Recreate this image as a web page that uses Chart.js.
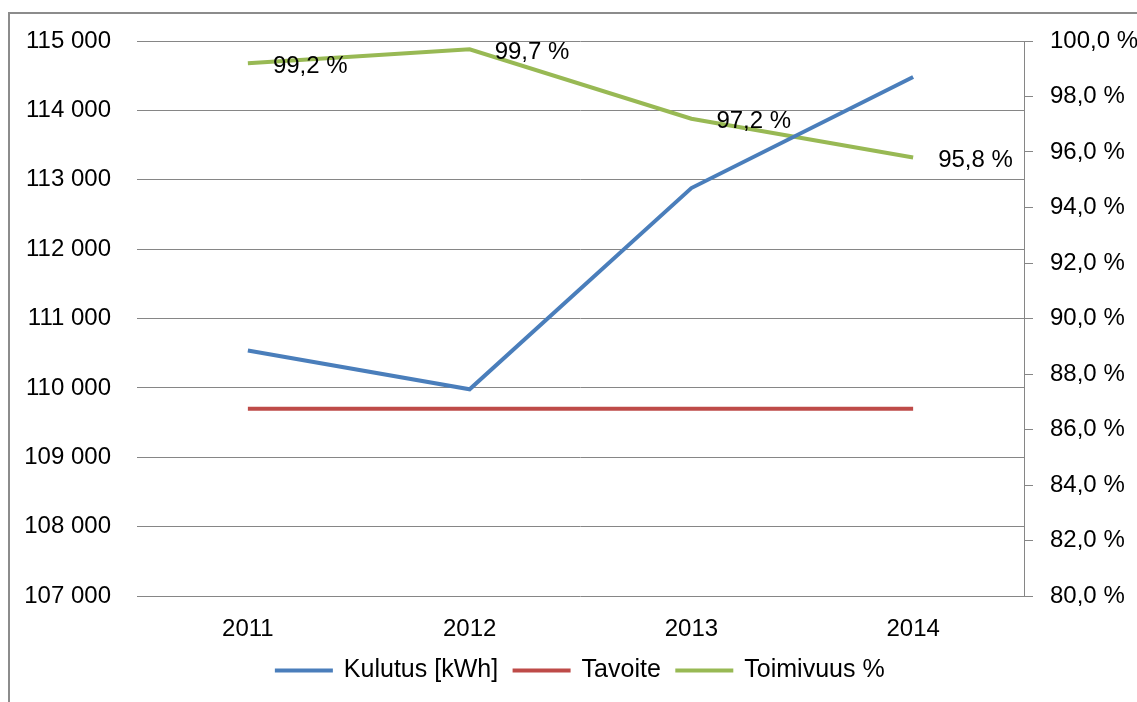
<!DOCTYPE html>
<html>
<head>
<meta charset="utf-8">
<script src="https://cdn.jsdelivr.net/npm/chart.js@4/dist/chart.umd.min.js"></script>
<style>
html,body{margin:0;padding:0;background:#fff;overflow:hidden;}
#frame{position:absolute;left:8px;top:12px;width:1300px;height:900px;border-left:2px solid #8c8c8c;border-top:2px solid #8c8c8c;box-sizing:border-box;}
#wrap{position:absolute;left:0;top:0;width:1137px;height:702px;}
</style>
</head>
<body>
<div id="frame"></div>
<div id="wrap"><canvas id="c" width="1137" height="702"></canvas></div>
<script>
const categories = ['2011', '2012', '2013', '2014'];
const kulutus = [110540, 109980, 112880, 114480];
const tavoite = [109700, 109700, 109700, 109700];
const toimivuus = [99.2, 99.7, 97.2, 95.8];
const seriesNames = ['Kulutus [kWh]', 'Tavoite', 'Toimivuus %'];

const FONT = 'Liberation Sans';
const FS = 24;
const LFS = 25;

const fmtThousands = v => String(Math.round(v)).replace(/\B(?=(\d{3})+(?!\d))/g, ' ');
const fmtPct = v => v.toFixed(1).replace('.', ',') + ' %';

const dataLabels = {
  id: 'dataLabels',
  afterDatasetsDraw(chart) {
    const ctx = chart.ctx;
    const meta = chart.getDatasetMeta(2);
    ctx.save();
    ctx.font = FS + 'px "' + FONT + '"';
    ctx.fillStyle = '#000';
    ctx.textAlign = 'left';
    ctx.textBaseline = 'middle';
    meta.data.forEach((pt, i) => {
      ctx.fillText(fmtPct(toimivuus[i]), pt.x + 25, pt.y + 3);
    });
    ctx.restore();
  }
};

new Chart(document.getElementById('c'), {
  type: 'line',
  data: {
    labels: categories,
    datasets: [
      {label: seriesNames[0], data: kulutus, borderColor: '#4a7ebb', backgroundColor: '#4a7ebb', borderWidth: 4, yAxisID: 'y', pointRadius: 0, tension: 0},
      {label: seriesNames[1], data: tavoite, borderColor: '#be4b48', backgroundColor: '#be4b48', borderWidth: 4, yAxisID: 'y', pointRadius: 0, tension: 0},
      {label: seriesNames[2], data: toimivuus, borderColor: '#98b954', backgroundColor: '#98b954', borderWidth: 4, yAxisID: 'y1', pointRadius: 0, tension: 0}
    ]
  },
  options: {
    responsive: false,
    animation: false,
    devicePixelRatio: 1,
    layout: {padding: {left: 0, right: 0, top: 41, bottom: 9}},
    font: {family: FONT, size: FS},
    plugins: {
      legend: {
        position: 'bottom',
        fullSize: false,
        labels: {
          color: '#000',
          font: {family: FONT, size: LFS},
          boxWidth: 55,
          boxHeight: 1,
          padding: 16,
          generateLabels(chart) {
            return Chart.defaults.plugins.legend.labels.generateLabels(chart).map(l => Object.assign(l, {lineWidth: 3}));
          }
        }
      },
      tooltip: {enabled: false}
    },
    scales: {
      x: {
        offset: true,
        grid: {display: false, drawTicks: false},
        border: {display: false},
        ticks: {color: '#000', font: {family: FONT, size: FS}, padding: 19, maxRotation: 0},
        afterFit(s) { s.height = 46; }
      },
      y: {
        position: 'left',
        min: 107000, max: 115000,
        ticks: {stepSize: 1000, color: '#000', font: {family: FONT, size: FS}, padding: 26, callback: v => fmtThousands(v)},
        grid: {color: '#868686', lineWidth: 1, drawTicks: false},
        border: {display: false},
        afterFit(s) { s.width = 137; }
      },
      y1: {
        position: 'right',
        min: 80, max: 100,
        ticks: {stepSize: 2, color: '#000', font: {family: FONT, size: FS}, padding: 17, callback: v => fmtPct(v)},
        grid: {drawOnChartArea: false, drawTicks: true, tickLength: 9, color: '#868686', lineWidth: 1},
        border: {display: true, color: '#868686', width: 1},
        afterFit(s) { s.width = 113; }
      }
    }
  },
  plugins: [dataLabels]
});
</script>
</body>
</html>
